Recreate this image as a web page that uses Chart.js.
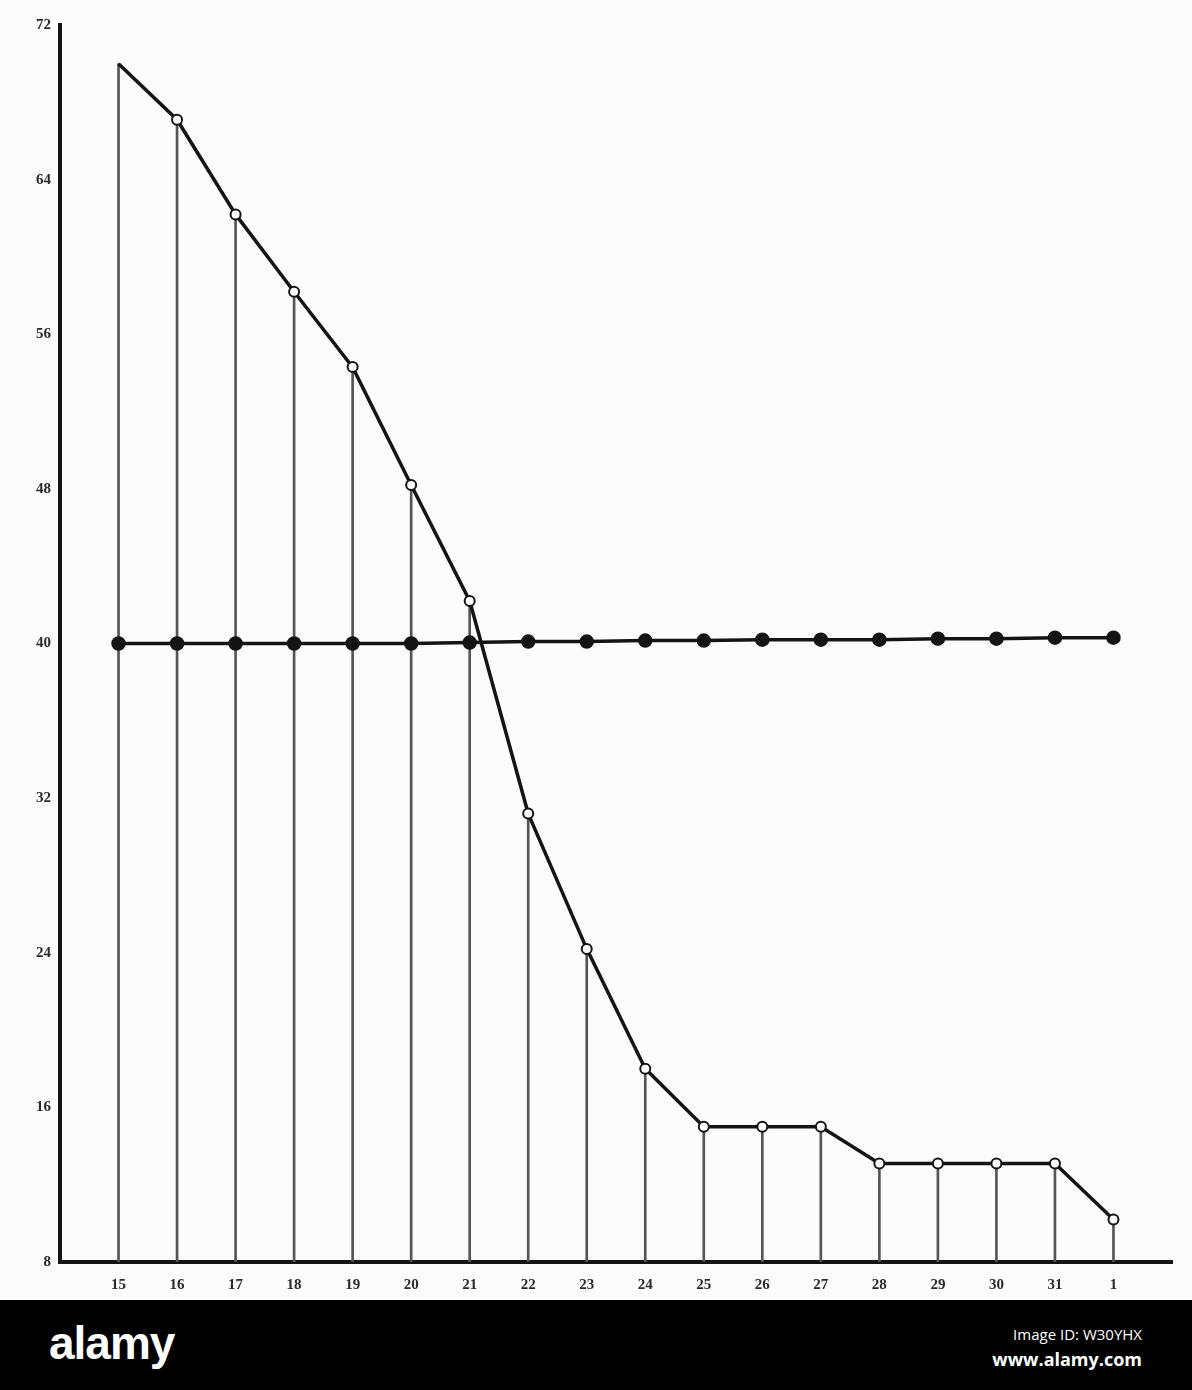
<!DOCTYPE html>
<html>
<head>
<meta charset="utf-8">
<script src="https://cdn.jsdelivr.net/npm/chart.js@4/dist/chart.umd.min.js"></script>
<style>
  html, body { margin: 0; padding: 0; background: #fcfcfc; }
  #wrap { position: relative; width: 1192px; height: 1300px; background: #fcfcfc; }
  #footer { position: relative; width: 1192px; height: 90px; background: #000; color: #fff; }
  #logo { position: absolute; left: 49px; top: 16px; font-family: "Liberation Sans Narrow", "Liberation Sans", sans-serif; font-weight: bold; font-size: 46px; letter-spacing: -1px; }
  #imgid { position: absolute; right: 50px; top: 24px; font-family: "Open Sans", sans-serif; font-size: 15px; }
  #site { position: absolute; right: 50px; top: 47px; font-family: "Open Sans", sans-serif; font-weight: bold; font-size: 18px; }
</style>
</head>
<body>
<div id="wrap"><canvas id="chart" width="1192" height="1300"></canvas></div>
<div id="footer">
  <div id="logo">alamy</div>
  <div id="imgid">Image ID: W30YHX</div>
  <div id="site">www.alamy.com</div>
</div>
<script>
// day labels along the bottom (positions 1..18)
const days = ['15', '16', '17', '18', '19', '20', '21', '22', '23', '24', '25', '26', '27', '28', '29', '30', '31', '1'];
// falling curve (open circles)
const upperValues = [70.0, 67.1, 62.2, 58.2, 54.3, 48.2, 42.2, 31.2, 24.2, 18.0, 15.0, 15.0, 15.0, 13.1, 13.1, 13.1, 13.1, 10.2];
// near-flat line (filled dots)
const lowerValues = [40.0, 40.0, 40.0, 40.0, 40.0, 40.0, 40.05, 40.1, 40.1, 40.15, 40.15, 40.2, 40.2, 40.2, 40.25, 40.25, 40.3, 40.3];
// y tick labels
const yTicks = [8, 16, 24, 32, 40, 48, 56, 64, 72];

const ink = '#141414';
const tickFont = { family: '"Liberation Serif", serif', size: 15, weight: 'bold' };

new Chart(document.getElementById('chart'), {
  data: {
    datasets: [
      {
        type: 'line',
        order: 1,
        data: upperValues.map((v, i) => ({ x: i + 1, y: v })),
        borderColor: ink,
        borderWidth: 3.5,
        pointRadius: upperValues.map((v, i) => (i === 0 ? 0 : 5)),
        pointBackgroundColor: '#fff',
        pointBorderColor: ink,
        pointBorderWidth: 2,
        tension: 0
      },
      {
        type: 'line',
        order: 2,
        data: lowerValues.map((v, i) => ({ x: i + 1, y: v })),
        borderColor: ink,
        borderWidth: 3.5,
        pointRadius: 5.5,
        pointBackgroundColor: ink,
        pointBorderColor: ink,
        tension: 0
      },
      {
        // drop lines from the axis up to the curve
        type: 'bar',
        order: 3,
        data: upperValues.map((v, i) => ({ x: i + 1, y: [8, v] })),
        backgroundColor: '#555',
        barThickness: 2
      }
    ]
  },
  options: {
    responsive: false,
    animation: false,
    devicePixelRatio: 1,
    layout: { padding: { top: 25, right: 20, left: 0, bottom: 0 } },
    plugins: { legend: { display: false }, tooltip: { enabled: false } },
    scales: {
      x: {
        type: 'linear',
        offset: false,
        min: 0,
        max: 19,
        grid: { display: false, drawTicks: false, offset: false },
        border: { display: true, color: ink, width: 4 },
        afterFit: (s) => { s.height = 38; },
        ticks: {
          stepSize: 1,
          autoSkip: false,
          padding: 14,
          color: '#2a2a2a',
          font: tickFont,
          callback: (v) => days[v - 1] || ''
        }
      },
      y: {
        type: 'linear',
        min: 8,
        max: 72,
        grid: { display: false, drawTicks: false },
        border: { display: true, color: ink, width: 4 },
        afterFit: (s) => { s.width = 60; },
        afterBuildTicks: (s) => { s.ticks = yTicks.map((v) => ({ value: v })); },
        ticks: {
          padding: 9,
          color: '#2a2a2a',
          font: tickFont,
          callback: (v) => String(v)
        }
      }
    }
  }
});
</script>
</body>
</html>
